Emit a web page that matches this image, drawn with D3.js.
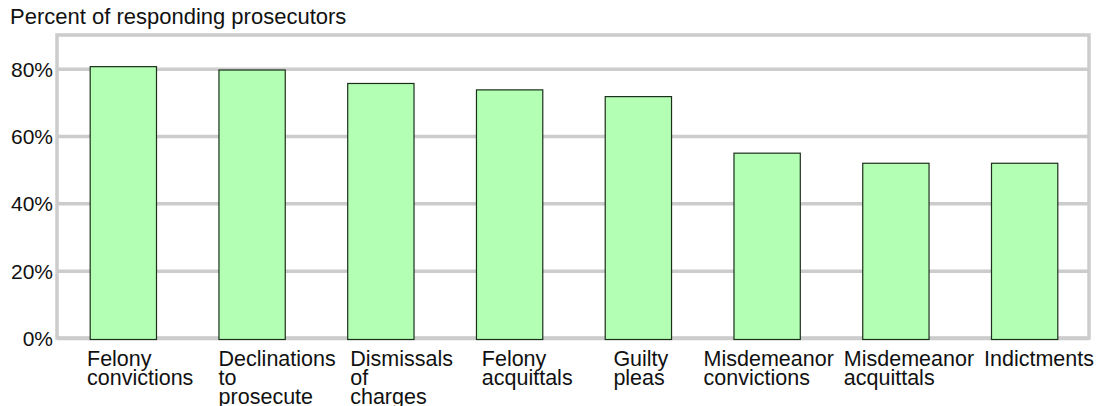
<!DOCTYPE html>
<html>
<head>
<meta charset="utf-8">
<script src="https://cdn.jsdelivr.net/npm/d3@7"></script>
<style>
  body { margin: 0; background: #fff; }
  svg { display: block; font-family: "Liberation Sans", Arial, Helvetica, sans-serif; }
</style>
</head>
<body>
<div id="chart"></div>
<script>
const width = 1098, height = 406;

const categories = ["Felony convictions", "Declinations to prosecute", "Dismissals of charges",
  "Felony acquittals", "Guilty pleas", "Misdemeanor convictions", "Misdemeanor acquittals", "Indictments"];
const values = [80.6, 79.6, 75.6, 73.7, 71.7, 54.9, 51.9, 51.9];
const yTicks = [0, 20, 40, 60, 80];

const plot = { left: 57, right: 1089, top: 35, bottom: 338 };

const svg = d3.select("#chart").append("svg")
    .attr("width", width)
    .attr("height", height);

const x = d3.scaleBand()
    .domain(categories)
    .range([plot.left + 1, plot.right + 1])
    .paddingInner(0.485)
    .paddingOuter(0.25);

const y = d3.scaleLinear()
    .domain([0, 90])
    .range([plot.bottom, plot.top]);

// title
svg.append("text")
    .attr("x", 10)
    .attr("y", 24)
    .style("font-size", "22px")
    .attr("fill", "#111")
    .text("Percent of responding prosecutors");

// frame
svg.append("rect")
    .attr("x", plot.left)
    .attr("y", y(90))
    .attr("width", plot.right - plot.left)
    .attr("height", y(0) - y(90))
    .attr("fill", "none")
    .attr("stroke", "#cccccc")
    .attr("stroke-width", 3.5);

// gridlines + tick labels
const yAxis = svg.append("g")
    .attr("transform", `translate(${plot.left},0)`)
    .call(d3.axisLeft(y)
        .tickValues(yTicks)
        .tickSize(-(plot.right - plot.left))
        .tickPadding(4)
        .tickFormat(d => d + "%"));
yAxis.select(".domain").remove();
yAxis.selectAll(".tick line")
    .attr("stroke", "#cccccc")
    .attr("stroke-width", 3.5);
yAxis.selectAll(".tick text")
    .attr("fill", "#111")
    .attr("dy", "0.36em")
    .style("font-size", "21px")
    .style("font-family", "'Liberation Sans', Arial, sans-serif");

// bars
svg.selectAll("rect.bar")
    .data(values)
    .enter().append("rect")
    .attr("class", "bar")
    .attr("x", (d, i) => x(categories[i]))
    .attr("y", d => y(d))
    .attr("width", x.bandwidth())
    .attr("height", d => y(0) - y(d) + 1.5)
    .attr("fill", "#b3ffb3")
    .attr("stroke", "#1c2e1c")
    .attr("stroke-width", 1.2);

// category labels: one word per line, left aligned, pushed left when crowded
const labelStep = 131.6, labelStart = 87, rightLimit = 1094, gap = 10;
const labels = svg.selectAll("text.cat")
    .data(categories)
    .enter().append("text")
    .attr("class", "cat")
    .attr("y", 366)
    .attr("fill", "#111")
    .style("font-size", "21.5px");

labels.each(function(d) {
    const t = d3.select(this);
    d.split(" ").forEach((w, j) => {
        t.append("tspan")
            .attr("dy", j === 0 ? 0 : 19)
            .text(w);
    });
});

const widths = [];
labels.each(function(d, i) {
    let w = 0;
    d3.select(this).selectAll("tspan").each(function() {
        w = Math.max(w, this.getComputedTextLength());
    });
    widths[i] = w;
});

let limit = rightLimit;
const lefts = [];
for (let i = categories.length - 1; i >= 0; i--) {
    const want = labelStart + i * labelStep;
    lefts[i] = Math.min(want, limit - widths[i]);
    limit = lefts[i] - gap;
}

labels.each(function(d, i) {
    d3.select(this).selectAll("tspan").attr("x", lefts[i]);
});
</script>
</body>
</html>
